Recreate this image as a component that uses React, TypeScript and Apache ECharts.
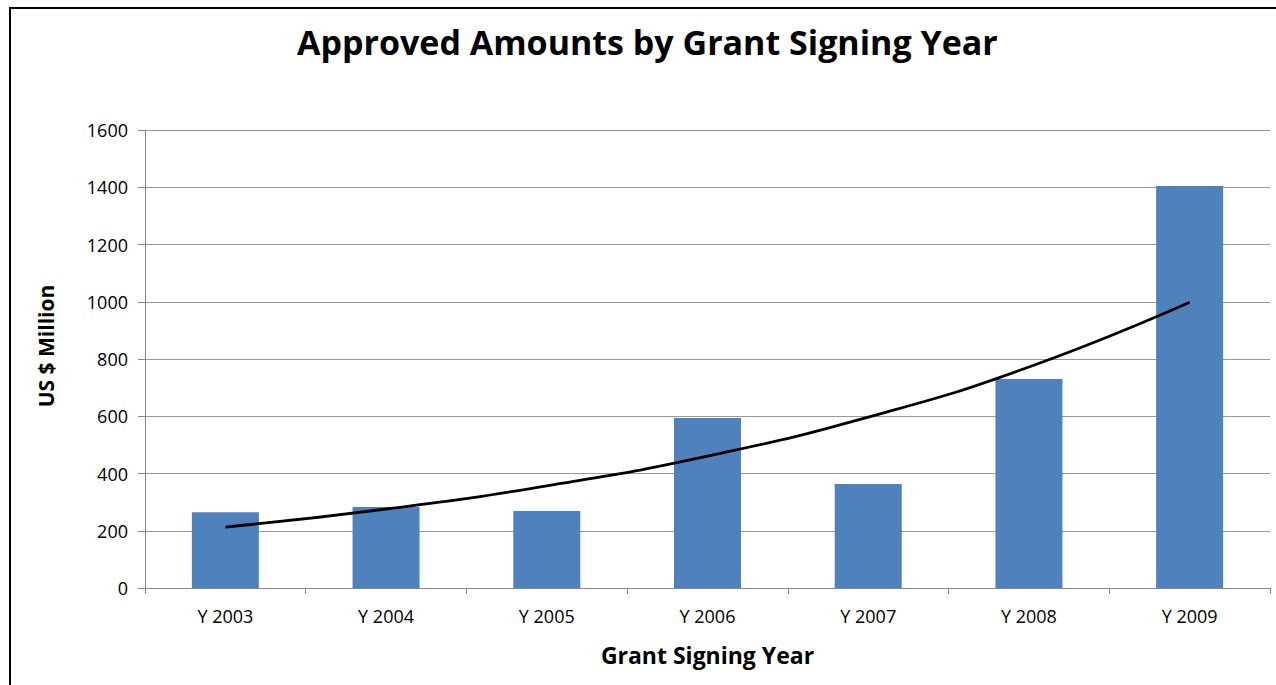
import React, { useEffect, useRef } from "react";
import * as echarts from "echarts";

const categories = ["Y 2003", "Y 2004", "Y 2005", "Y 2006", "Y 2007", "Y 2008", "Y 2009"];
const approvedAmounts = [265, 283, 269, 594, 363, 730, 1404];
const trendValues = [213, 276, 357, 461, 597, 772, 998];
const yTicks = { min: 0, max: 1600, interval: 200 };

const FONT = "'Open Sans', 'Noto Sans', sans-serif";

export default function App() {
  const ref = useRef<HTMLDivElement>(null);

  useEffect(() => {
    document.body.style.margin = "0";
    if (!ref.current) return;
    const chart = echarts.init(ref.current, undefined, { renderer: "svg" });
    chart.setOption({
      animation: false,
      backgroundColor: "#ffffff",
      textStyle: { fontFamily: FONT },
      title: {
        text: "Approved Amounts by Grant Signing Year",
        left: 292,
        top: 20,
        padding: 5,
        textStyle: { fontFamily: FONT, fontSize: 34, fontWeight: "bold", color: "#000" },
      },
      graphic: [
        {
          type: "rect",
          shape: { x: 10, y: 8, width: 1300, height: 700 },
          style: { fill: "none", stroke: "#000", lineWidth: 2 },
          silent: true,
          z: 100,
        },
        {
          type: "text",
          x: 46,
          y: 346,
          rotation: Math.PI / 2,
          style: {
            text: "US $ Million",
            fontFamily: FONT,
            fontSize: 21,
            fontWeight: "bold",
            fill: "#000",
            align: "center",
            verticalAlign: "middle",
          },
        },
      ],
      grid: { left: 145, right: 6, top: 130, bottom: 97, containLabel: false },
      xAxis: {
        type: "category",
        data: categories,
        boundaryGap: true,
        name: "Grant Signing Year",
        nameLocation: "middle",
        nameGap: 55,
        nameTextStyle: { fontFamily: FONT, fontSize: 23, fontWeight: "bold", color: "#000" },
        axisLine: { lineStyle: { color: "#888", width: 1 } },
        axisTick: { show: true, length: 6, lineStyle: { color: "#888" } },
        axisLabel: { fontFamily: FONT, fontSize: 18, color: "#000", margin: 19 },
      },
      yAxis: {
        type: "value",
        min: yTicks.min,
        max: yTicks.max,
        interval: yTicks.interval,
        axisLine: { show: true, lineStyle: { color: "#888", width: 1 } },
        axisTick: { show: true, length: 7, lineStyle: { color: "#888" } },
        axisLabel: {
          fontFamily: FONT,
          fontSize: 18,
          color: "#000",
          margin: 17,
          formatter: (v: number) => String(v),
        },
        splitLine: { show: true, lineStyle: { color: "#999", width: 1 } },
      },
      series: [
        {
          type: "bar",
          name: "Approved Amounts",
          data: approvedAmounts,
          barWidth: 67,
          itemStyle: { color: "#4F81BD" },
        },
        {
          type: "line",
          name: "Expon. (Approved Amounts)",
          data: trendValues,
          smooth: true,
          symbol: "none",
          lineStyle: { color: "#000", width: 2.8 },
          z: 5,
        },
      ],
    });
    return () => chart.dispose();
  }, []);

  return <div ref={ref} style={{ width: 1276, height: 685 }} />;
}
